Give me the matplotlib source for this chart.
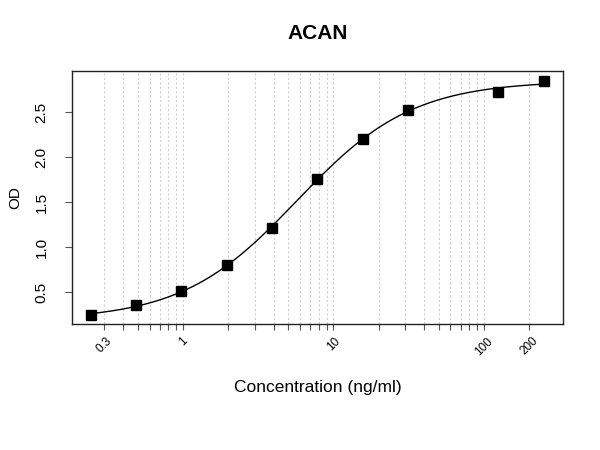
import numpy as np
import matplotlib
matplotlib.use('Agg')
import matplotlib.pyplot as plt
from matplotlib.ticker import FixedLocator, NullFormatter

plt.rcParams['font.family'] = ['Liberation Sans', 'DejaVu Sans']

# standard concentrations and measured OD
conc = np.array([0.244, 0.488, 0.977, 1.953, 3.906, 7.8125, 15.625, 31.25, 125.0, 250.0])
od = np.array([0.244, 0.352, 0.511, 0.800, 1.208, 1.759, 2.200, 2.522, 2.719, 2.848])

major_ticks = [0.3, 1, 10, 100, 200]
major_labels = ['0.3', '1', '10', '100', '200']
minor_ticks = [0.4, 0.5, 0.6, 0.7, 0.8, 0.9, 2, 3, 4, 5, 6, 7, 8, 9,
               20, 30, 40, 50, 60, 70, 80, 90]
y_ticks = [0.5, 1.0, 1.5, 2.0, 2.5]
y_labels = ['0.5', '1.0', '1.5', '2.0', '2.5']


# 4-parameter logistic fit (bottom, top, log ec50, hill)
def model(p, x):
    a, d, lc, b = p
    return d + (a - d) / (1 + (x / np.exp(lc)) ** b)


p = np.array([0.2, 2.9, np.log(6.0), 1.1])
lam = 1e-3
for _ in range(300):
    r = od - model(p, conc)
    J = np.zeros((len(conc), 4))
    for k in range(4):
        dp = np.zeros(4)
        dp[k] = 1e-6
        J[:, k] = (model(p + dp, conc) - model(p - dp, conc)) / 2e-6
    A = J.T @ J
    g = J.T @ r
    step = np.linalg.solve(A + lam * np.diag(np.diag(A)), g)
    pn = p + step
    if np.sum((od - model(pn, conc)) ** 2) < np.sum(r ** 2):
        p = pn
        lam *= 0.3
    else:
        lam *= 10

xs = np.logspace(np.log10(conc.min()), np.log10(conc.max()), 300)

fig = plt.figure(figsize=(6, 4.5), dpi=100)
ax = fig.add_axes([0.12, 0.28, 0.818, 0.562])

# dotted vertical grid at every tick
for t in major_ticks + minor_ticks:
    ax.axvline(t, color='#cfcfcf', linestyle=(0, (2, 2)), linewidth=0.8, zorder=0)

ax.plot(xs, model(p, xs), color='black', linewidth=1.0, zorder=2)
ax.plot(conc, od, linestyle='none', marker='s', markersize=7.5, color='black', zorder=3)

ax.set_xscale('log')
ax.set_xlim(0.183, 335)
ax.set_ylim(0.144, 2.956)

ax.xaxis.set_major_locator(FixedLocator(major_ticks))
ax.xaxis.set_minor_locator(FixedLocator(minor_ticks))
ax.xaxis.set_minor_formatter(NullFormatter())
ax.set_xticklabels(major_labels, rotation=45, ha='center', fontsize=8.5)
ax.set_yticks(y_ticks)
ax.set_yticklabels(y_labels, rotation=90, va='center', fontsize=11)

ax.tick_params(axis='x', which='both', length=4, width=0.8, color='#555555', pad=4)
ax.tick_params(axis='y', length=5, width=0.8, color='#555555', pad=12)
for s in ax.spines.values():
    s.set_linewidth(1.0)
    s.set_color('#222222')

ax.set_title('ACAN', fontsize=15, fontweight='bold', pad=23)
ax.set_xlabel('Concentration (ng/ml)', fontsize=12.5, labelpad=16)
ax.set_ylabel('OD', fontsize=11, labelpad=9)

fig.savefig('out.png', dpi=100)
